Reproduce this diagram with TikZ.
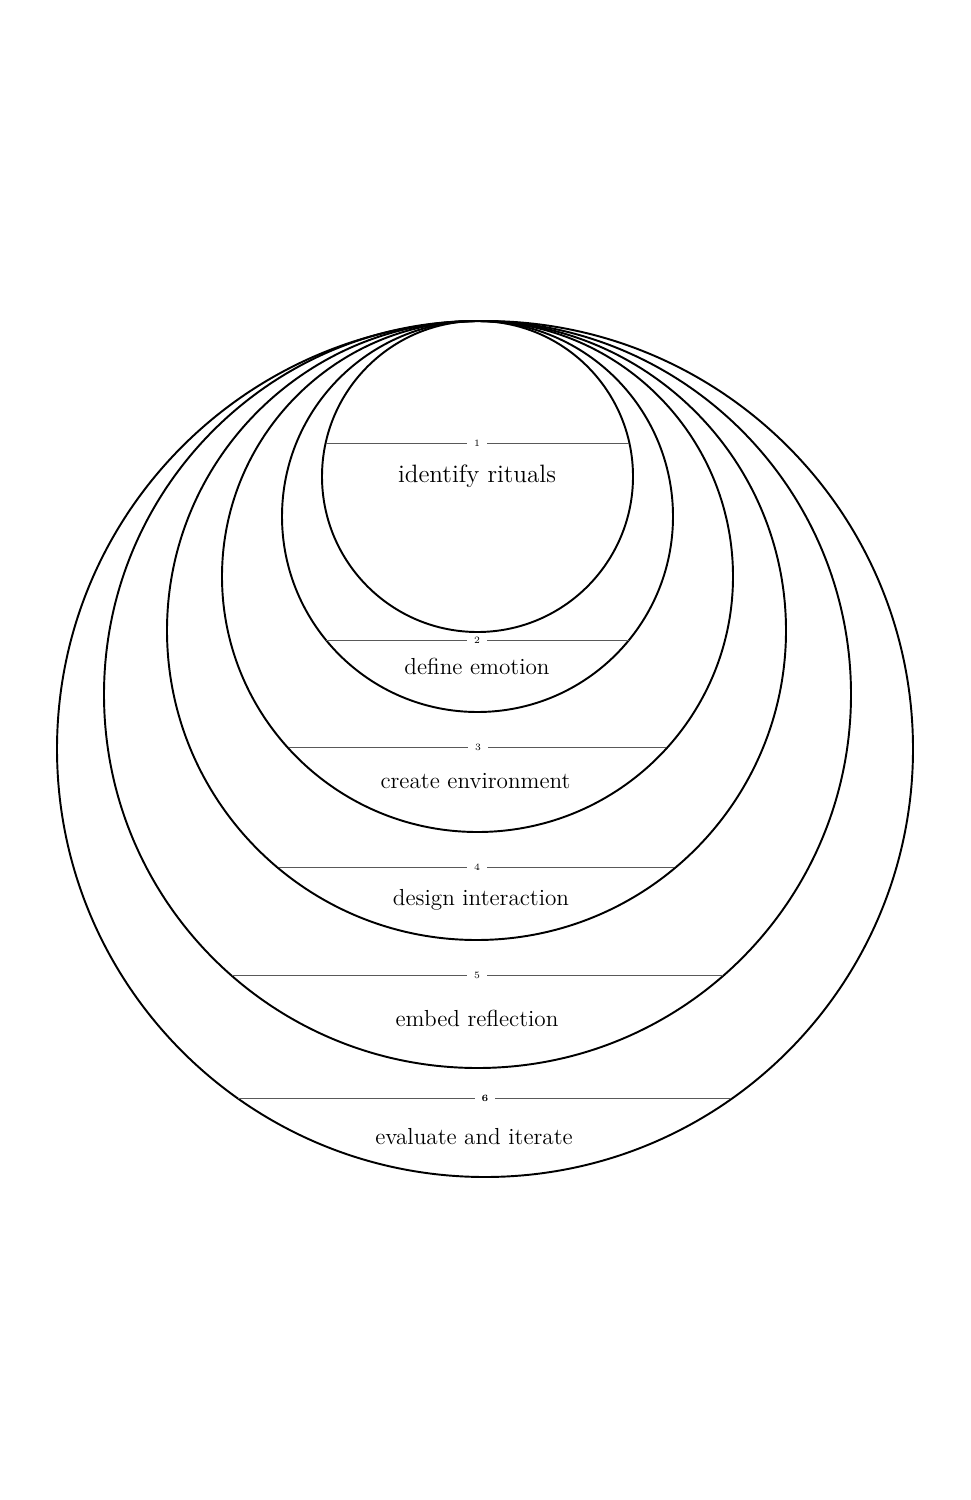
\documentclass[tikz,border=0pt]{standalone}
\usepackage{tikz}
\usetikzlibrary{positioning}

\tikzset{
    ring/.style={draw=black, line width=1.1pt},
    chord/.style={draw=black!65, line width=0.5pt},
    stepnum/.style={fill=white, inner xsep=4pt, inner ysep=1pt, font=\fontsize{5.5}{6}\selectfont},
    steplabel/.style={font=\fontsize{13.2}{15}\selectfont}
}

\begin{document}
\begin{tikzpicture}[x=0.02cm, y=-0.02cm]
    \useasboundingbox (0,0) rectangle (970,1500);

    % Nested circles, all touching at the top
    \draw[ring] (477.5,476.5) circle (155.5);
    \draw[ring] (477.5,516.5) circle (195.5);
    \draw[ring] (477.5,576.5) circle (255.5);
    \draw[ring] (476.5,630.5) circle (309.5);
    \draw[ring] (477.5,694.5) circle (373.5);
    \draw[ring] (485,749) circle (428);

    % Chords with step numbers
    \draw[chord] (326,443) -- (629,443);
    \node[stepnum] (n1) at (477,443) {1};
    \draw[chord] (326,640) -- (629,640);
    \node[stepnum] (n2) at (477,640) {2};
    \draw[chord] (289,747) -- (666,747);
    \node[stepnum] (n3) at (478,747) {3};
    \draw[chord] (279,867) -- (674,867);
    \node[stepnum] (n4) at (477,867) {4};
    \draw[chord] (232,975) -- (723,975);
    \node[stepnum] (n5) at (477,975) {5};
    \draw[chord] (238,1098) -- (731,1098);
    \node[stepnum] (n6) at (485,1098) {\textbf{6}};

    % Step labels
    \node[steplabel, font=\fontsize{14.3}{17}\selectfont] (identify) at (477,476) {identify rituals};
    \node[steplabel] (define) at (477,666) {define emotion};
    \node[steplabel] (create) at (475.5,781) {create environment};
    \node[steplabel] (design) at (481,900) {design interaction};
    \node[steplabel] (embed) at (477,1018) {embed reflection};
    \node[steplabel] (evaluate) at (474,1137) {evaluate and iterate};
\end{tikzpicture}
\end{document}
